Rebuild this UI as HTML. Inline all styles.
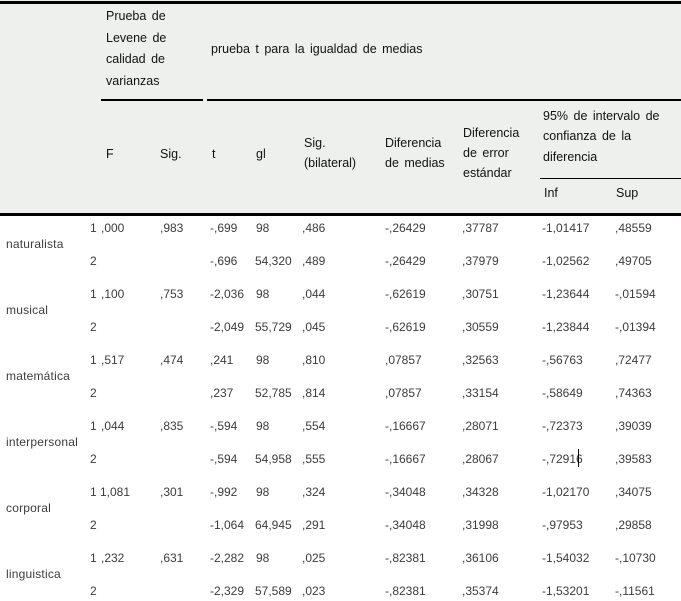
<!DOCTYPE html>
<html><head><meta charset="utf-8"><style>
html,body{margin:0;padding:0;background:#fff;}
#w{position:relative;width:681px;height:601px;overflow:hidden;font-family:"Liberation Sans",sans-serif;font-size:12px;color:#3c3c3c;}
.hd{position:absolute;left:0;top:0;width:681px;height:213px;background:#eef0ed;}
.ln{position:absolute;background:#000;}
.t{position:absolute;white-space:nowrap;}
.h{color:#111;word-spacing:2px;font-size:12.5px;}
.r{position:absolute;left:0;width:681px;height:16px;line-height:16px;}
.r span{position:absolute;top:0;white-space:nowrap;}
</style></head><body><div id="w">
<div class="hd"></div>
<div class="ln" style="left:0;top:1px;width:681px;height:3px;"></div>
<div class="ln" style="left:0;top:213px;width:681px;height:3px;"></div>
<div class="ln" style="left:101px;top:99px;width:102px;height:1.5px;"></div>
<div class="ln" style="left:207px;top:99px;width:474px;height:1.5px;"></div>
<div class="ln" style="left:540px;top:177.5px;width:141px;height:1.5px;"></div>

<div class="t h" style="left:106px;top:6px;line-height:21.5px;">Prueba de<br>Levene de<br>calidad de<br>varianzas</div>
<div class="t h" style="left:211px;top:39px;line-height:20px;">prueba t para la igualdad de medias</div>
<div class="t h" style="left:106px;top:144px;line-height:20px;">F</div>
<div class="t h" style="left:160px;top:144px;line-height:20px;">Sig.</div>
<div class="t h" style="left:212px;top:144px;line-height:20px;">t</div>
<div class="t h" style="left:256px;top:144px;line-height:20px;">gl</div>
<div class="t h" style="left:304px;top:134px;line-height:19.5px;">Sig.<br>(bilateral)</div>
<div class="t h" style="left:385px;top:134px;line-height:19.5px;">Diferencia<br>de medias</div>
<div class="t h" style="left:463px;top:123px;line-height:20px;">Diferencia<br>de error<br>estándar</div>
<div class="t h" style="left:543px;top:106px;line-height:20.3px;">95% de intervalo de<br>confianza de la<br>diferencia</div>
<div class="t h" style="left:544px;top:183px;line-height:20px;">Inf</div>
<div class="t h" style="left:616px;top:183px;line-height:20px;">Sup</div>

<div class="t" style="left:6px;top:236px;line-height:16px;letter-spacing:0.2px;">naturalista</div>
<div class="t" style="left:6px;top:302px;line-height:16px;letter-spacing:0.2px;">musical</div>
<div class="t" style="left:6px;top:368px;line-height:16px;letter-spacing:0.2px;">matemática</div>
<div class="t" style="left:6px;top:434px;line-height:16px;letter-spacing:0.2px;">interpersonal</div>
<div class="t" style="left:6px;top:500px;line-height:16px;letter-spacing:0.2px;">corporal</div>
<div class="t" style="left:6px;top:566px;line-height:16px;letter-spacing:0.2px;">linguistica</div>

<div class="r" style="top:220px"><span style="left:90px">1</span><span style="left:101px">,000</span><span style="left:160px">,983</span><span style="left:210px">-,699</span><span style="left:256px">98</span><span style="left:302px">,486</span><span style="left:385px">-,26429</span><span style="left:462px">,37787</span><span style="left:542px">-1,01417</span><span style="left:615px">,48559</span></div>
<div class="r" style="top:253px"><span style="left:90px">2</span><span style="left:210px">-,696</span><span style="left:255px">54,320</span><span style="left:302px">,489</span><span style="left:385px">-,26429</span><span style="left:462px">,37979</span><span style="left:542px">-1,02562</span><span style="left:615px">,49705</span></div>
<div class="r" style="top:286px"><span style="left:90px">1</span><span style="left:101px">,100</span><span style="left:160px">,753</span><span style="left:210px">-2,036</span><span style="left:256px">98</span><span style="left:302px">,044</span><span style="left:385px">-,62619</span><span style="left:462px">,30751</span><span style="left:542px">-1,23644</span><span style="left:615px">-,01594</span></div>
<div class="r" style="top:319px"><span style="left:90px">2</span><span style="left:210px">-2,049</span><span style="left:255px">55,729</span><span style="left:302px">,045</span><span style="left:385px">-,62619</span><span style="left:462px">,30559</span><span style="left:542px">-1,23844</span><span style="left:615px">-,01394</span></div>
<div class="r" style="top:352px"><span style="left:90px">1</span><span style="left:101px">,517</span><span style="left:160px">,474</span><span style="left:210px">,241</span><span style="left:256px">98</span><span style="left:302px">,810</span><span style="left:385px">,07857</span><span style="left:462px">,32563</span><span style="left:542px">-,56763</span><span style="left:615px">,72477</span></div>
<div class="r" style="top:385px"><span style="left:90px">2</span><span style="left:210px">,237</span><span style="left:255px">52,785</span><span style="left:302px">,814</span><span style="left:385px">,07857</span><span style="left:462px">,33154</span><span style="left:542px">-,58649</span><span style="left:615px">,74363</span></div>
<div class="r" style="top:418px"><span style="left:90px">1</span><span style="left:101px">,044</span><span style="left:160px">,835</span><span style="left:210px">-,594</span><span style="left:256px">98</span><span style="left:302px">,554</span><span style="left:385px">-,16667</span><span style="left:462px">,28071</span><span style="left:542px">-,72373</span><span style="left:615px">,39039</span></div>
<div class="r" style="top:451px"><span style="left:90px">2</span><span style="left:210px">-,594</span><span style="left:255px">54,958</span><span style="left:302px">,555</span><span style="left:385px">-,16667</span><span style="left:462px">,28067</span><span style="left:542px">-,72916</span><span style="left:615px">,39583</span></div>
<div class="r" style="top:484px"><span style="left:90px">1</span><span style="left:100px">1,081</span><span style="left:160px">,301</span><span style="left:210px">-,992</span><span style="left:256px">98</span><span style="left:302px">,324</span><span style="left:385px">-,34048</span><span style="left:462px">,34328</span><span style="left:542px">-1,02170</span><span style="left:615px">,34075</span></div>
<div class="r" style="top:517px"><span style="left:90px">2</span><span style="left:210px">-1,064</span><span style="left:255px">64,945</span><span style="left:302px">,291</span><span style="left:385px">-,34048</span><span style="left:462px">,31998</span><span style="left:542px">-,97953</span><span style="left:615px">,29858</span></div>
<div class="r" style="top:550px"><span style="left:90px">1</span><span style="left:101px">,232</span><span style="left:160px">,631</span><span style="left:210px">-2,282</span><span style="left:256px">98</span><span style="left:302px">,025</span><span style="left:385px">-,82381</span><span style="left:462px">,36106</span><span style="left:542px">-1,54032</span><span style="left:615px">-,10730</span></div>
<div class="r" style="top:583px"><span style="left:90px">2</span><span style="left:210px">-2,329</span><span style="left:255px">57,589</span><span style="left:302px">,023</span><span style="left:385px">-,82381</span><span style="left:462px">,35374</span><span style="left:542px">-1,53201</span><span style="left:615px">-,11561</span></div>

<div class="ln" style="left:578px;top:449px;width:1px;height:18px;"></div>
</div></body></html>
